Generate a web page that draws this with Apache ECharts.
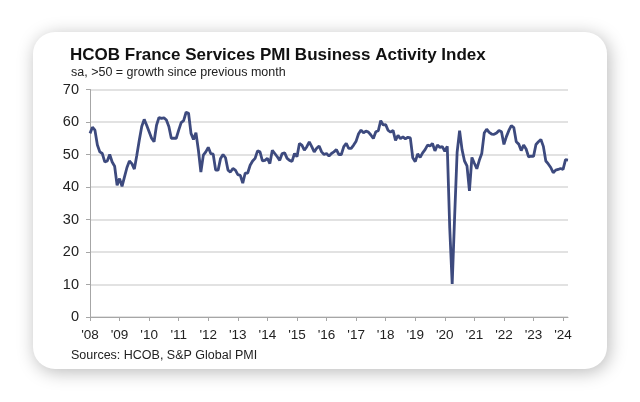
<!DOCTYPE html>
<html>
<head>
<meta charset="utf-8">
<script src="https://cdn.jsdelivr.net/npm/echarts@6/dist/echarts.min.js"></script>
<style>
html,body{margin:0;padding:0;background:#fff;width:640px;height:402px;overflow:hidden;}
#card{position:absolute;left:33px;top:32px;width:574px;height:337px;border-radius:22px;background:#fff;box-shadow:2px 3px 18px rgba(0,0,0,0.28);}
#chart{position:absolute;left:0;top:0;width:640px;height:402px;}
</style>
</head>
<body>
<div id="card"></div>
<div id="chart"></div>
<script>
const titleText = "HCOB France Services PMI Business Activity Index";
const subtitleText = "sa, >50 = growth since previous month";
const sourceText = "Sources: HCOB, S&P Global PMI";
const startYear = 2008;
const yTicks = [0, 10, 20, 30, 40, 50, 60, 70];

const v2008 = [56.5, 58.4, 57.5, 52.9, 50.8, 50.3, 47.7, 48.0, 50.0, 47.7, 46.4, 40.5];
const v2009 = [42.6, 40.2, 43.1, 46.0, 48.0, 47.2, 45.5, 49.8, 54.4, 58.6, 60.8, 59.0];
const v2010 = [57.0, 55.0, 53.9, 59.0, 61.4, 61.1, 61.3, 60.6, 58.6, 55.0, 55.0, 55.0];
const v2011 = [57.5, 59.8, 60.4, 63.0, 62.7, 56.5, 54.6, 56.7, 51.3, 44.6, 49.8, 50.8];
const v2012 = [52.2, 50.3, 50.1, 45.2, 45.2, 48.8, 50.0, 49.0, 45.2, 44.6, 45.7, 45.2];
const v2013 = [43.8, 43.6, 41.2, 44.3, 44.3, 46.7, 48.0, 48.8, 51.1, 50.8, 48.0, 48.2];
const v2014 = [48.8, 47.2, 51.3, 50.3, 49.3, 48.2, 50.3, 50.5, 48.8, 48.2, 47.9, 50.3];
const v2015 = [49.3, 53.4, 52.9, 51.3, 52.4, 53.9, 52.4, 50.8, 51.9, 52.6, 50.8, 50.0];
const v2016 = [50.3, 49.5, 50.3, 50.8, 51.5, 50.0, 50.0, 52.4, 53.4, 51.9, 51.9, 52.9];
const v2017 = [54.1, 56.4, 57.5, 56.7, 57.2, 56.9, 56.0, 54.9, 57.0, 57.3, 60.4, 59.1];
const v2018 = [59.2, 57.4, 56.9, 57.4, 54.3, 55.9, 54.9, 55.4, 54.8, 55.3, 55.1, 49.0];
const v2019 = [47.8, 50.2, 49.1, 50.5, 51.5, 52.9, 52.6, 53.4, 51.1, 52.9, 52.2, 52.4];
const v2020 = [51.0, 52.5, 27.4, 10.2, 31.1, 50.7, 57.3, 51.5, 48.0, 46.5, 38.8, 49.1];
const v2021 = [47.3, 45.6, 48.2, 50.3, 56.6, 57.8, 56.8, 56.3, 56.2, 56.6, 57.4, 57.0];
const v2022 = [53.1, 55.5, 57.4, 58.9, 58.3, 53.9, 53.2, 51.2, 52.9, 51.7, 49.3, 49.5];
const v2023 = [49.4, 53.1, 53.9, 54.6, 52.5, 48.0, 47.1, 46.0, 44.4, 45.2, 45.4, 45.7];
const v2024 = [45.4, 48.4, 48.3];

const values = [].concat(v2008, v2009, v2010, v2011, v2012, v2013, v2014, v2015,
  v2016, v2017, v2018, v2019, v2020, v2021, v2022, v2023, v2024);
const categories = values.map((_, i) => {
  const y = startYear + Math.floor(i / 12);
  const m = (i % 12) + 1;
  return y + "-" + (m < 10 ? "0" + m : m);
});

const chart = echarts.init(document.getElementById('chart'), null, {renderer: 'canvas'});
const font = 'Arial, "Liberation Sans", sans-serif';
chart.setOption({
  animation: false,
  backgroundColor: 'transparent',
  title: [
    {text: titleText, left: 65, top: 41.5, textStyle: {fontFamily: font, fontSize: 17, fontWeight: 'bold', color: '#111'}},
    {text: subtitleText, left: 66, top: 61.5, textStyle: {fontFamily: font, fontSize: 12.5, fontWeight: 'normal', color: '#222'}},
    {text: sourceText, left: 66, top: 344, textStyle: {fontFamily: font, fontSize: 12.5, fontWeight: 'normal', color: '#222'}}
  ],
  grid: {left: 90, right: 72, top: 89.5, bottom: 85, containLabel: false},
  xAxis: {
    type: 'category',
    data: categories,
    boundaryGap: false,
    axisLine: {lineStyle: {color: '#a6a6a6', width: 1}},
    axisTick: {show: true, interval: (i) => i % 12 === 0, length: 4, lineStyle: {color: '#a6a6a6'}},
    axisLabel: {
      interval: (i) => i % 12 === 0,
      formatter: (val) => "'" + val.slice(2, 4),
      fontFamily: font, fontSize: 13.5, color: '#222', margin: 11
    },
    splitLine: {show: false}
  },
  yAxis: {
    type: 'value',
    min: yTicks[0], max: yTicks[yTicks.length - 1], interval: 10,
    axisLine: {show: true, lineStyle: {color: '#a6a6a6', width: 1}},
    axisTick: {show: true, length: 4, lineStyle: {color: '#a6a6a6'}},
    axisLabel: {fontFamily: font, fontSize: 14.5, color: '#222', margin: 11},
    splitLine: {show: true, lineStyle: {color: '#d9d9d9', width: 1.5}}
  },
  series: [{
    type: 'line',
    data: values,
    showSymbol: false,
    lineStyle: {color: '#3d4a7e', width: 2.8},
    itemStyle: {color: '#3d4a7e'}
  }]
});
</script>
</body>
</html>
